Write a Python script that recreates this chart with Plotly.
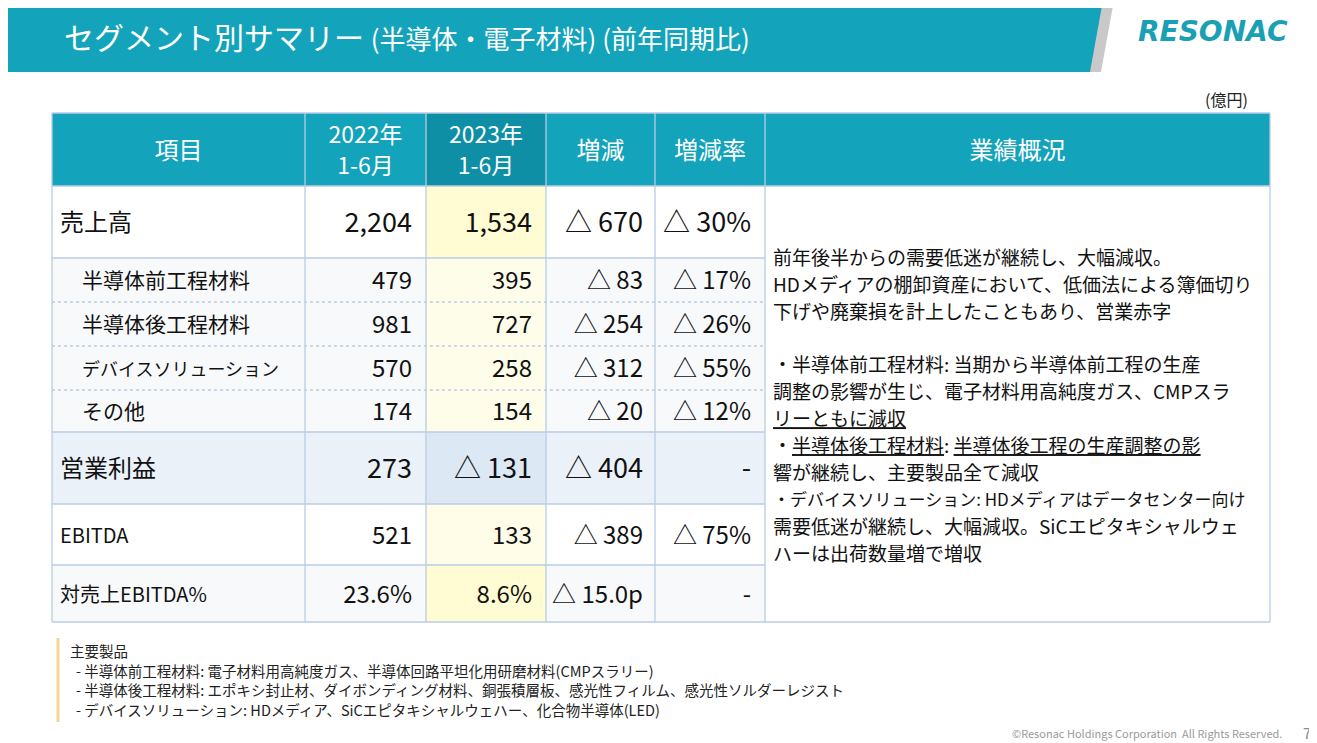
import plotly.graph_objects as go

# ---------------- data ----------------
items = ["売上高", "半導体前工程材料", "半導体後工程材料", "デバイスソリューション",
         "その他", "営業利益", "EBITDA", "対売上EBITDA%"]
h1_2022 = [2204, 479, 981, 570, 174, 273, 521, 23.6]
h1_2023 = [1534, 395, 727, 258, 154, -131, 133, 8.6]
change = [-670, -83, -254, -312, -20, -404, -389, -15.0]
change_rate = [-30, -17, -26, -55, -12, None, -75, None]
headers = ["項目", "2022年<br>1-6月", "2023年<br>1-6月", "増減", "増減率", "業績概況"]

commentary = [
    "前年後半からの需要低迷が継続し、大幅減収。",
    "HDメディアの棚卸資産において、低価法による簿価切り",
    "下げや廃棄損を計上したこともあり、営業赤字",
    "",
    "・半導体前工程材料: 当期から半導体前工程の生産",
    "調整の影響が生じ、電子材料用高純度ガス、CMPスラ",
    "<u>リーともに減収</u>",
    "・<u>半導体後工程材料</u>: <u>半導体後工程の生産調整の影</u>",
    "響が継続し、主要製品全て減収",
    "・デバイスソリューション: HDメディアはデータセンター向け",
    "需要低迷が継続し、大幅減収。SiCエピタキシャルウェ",
    "ハーは出荷数量増で増収",
]
products = [
    "主要製品",
    "- 半導体前工程材料: 電子材料用高純度ガス、半導体回路平坦化用研磨材料(CMPスラリー)",
    "- 半導体後工程材料: エポキシ封止材、ダイボンディング材料、銅張積層板、感光性フィルム、感光性ソルダーレジスト",
    "- デバイスソリューション: HDメディア、SiCエピタキシャルウェハー、化合物半導体(LED)",
]

# ---------------- layout / style constants ----------------
W, H = 1317, 743          # page (window) size
OFF = 8                   # page margin around the plot div
FONT = "Noto Sans CJK JP"
TEAL = "#13a3bb"
TEAL_DARK = "#0f8fa6"
BORDER = "#b9cde4"
COL_X = [52, 305, 426, 546, 655, 765, 1270]
ROW_Y = [113, 186, 258, 302, 346, 390, 432, 504, 565, 622]
TEXT_DY = 3
HEADER_LINE_GAP = 31
ratio_row = 7
row_fill = ["#ffffff", "#f8f9fb", "#f8f9fb", "#f8f9fb", "#f8f9fb", "#eaf1f9", "#ffffff", "#f8f9fb"]
hl_fill = ["#fffbd2", "#fefde9", "#fefde9", "#fefde9", "#fefde9", "#dce8f4", "#fffde8", "#fffbd2"]
label_x = [60, 82, 82, 82, 82, 60, 60, 60]
label_size = [24, 21, 21, 18, 21, 24, 20, 20]
value_size = [27, 24, 24, 24, 24, 27, 24, 24]
pads = [14, 14, 12, 14]


def fmt(v, decimals=0, suffix=""):
    if v is None:
        return "-"
    s = f"{abs(v):,.{decimals}f}" + suffix
    return ("△ " + s) if v < 0 else s


col_2022 = [fmt(v, 1, "%") if i == ratio_row else fmt(v) for i, v in enumerate(h1_2022)]
col_2023 = [fmt(v, 1, "%") if i == ratio_row else fmt(v) for i, v in enumerate(h1_2023)]
col_chg = [fmt(v, 1, "p") if i == ratio_row else fmt(v) for i, v in enumerate(change)]
col_rate = [fmt(v, 0, "%") for v in change_rate]

row_top = ROW_Y[1:-1]
row_bot = ROW_Y[2:]
row_mid = [(a + b) / 2 + TEXT_DY for a, b in zip(row_top, row_bot)]

shapes = []
# title band
shapes.append(dict(type="path", path="M 1102 0 L 1114 0 L 1101 72 L 1089 72 Z",
                   fillcolor="#c9c9c9", line=dict(width=0), xref="x", yref="y", layer="below"))
shapes.append(dict(type="path", path="M 0 0 L 1103 0 L 1090 72 L 0 72 Z",
                   fillcolor=TEAL, line=dict(width=0), xref="x", yref="y", layer="below"))
# header cells
for j in range(6):
    shapes.append(dict(type="rect", x0=COL_X[j], x1=COL_X[j + 1], y0=ROW_Y[0], y1=ROW_Y[1],
                       fillcolor=TEAL_DARK if j == 2 else TEAL, line=dict(width=0),
                       xref="x", yref="y", layer="below"))
# data cells
for i in range(len(items)):
    for j in range(5):
        shapes.append(dict(type="rect", x0=COL_X[j], x1=COL_X[j + 1], y0=row_top[i], y1=row_bot[i],
                           fillcolor=hl_fill[i] if j == 2 else row_fill[i], line=dict(width=0),
                           xref="x", yref="y", layer="below"))
shapes.append(dict(type="rect", x0=COL_X[5], x1=COL_X[6], y0=ROW_Y[1], y1=ROW_Y[-1],
                   fillcolor="#ffffff", line=dict(width=0), xref="x", yref="y", layer="below"))
# grid lines
for x in COL_X:
    shapes.append(dict(type="line", x0=x, x1=x, y0=ROW_Y[0], y1=ROW_Y[-1],
                       line=dict(color=BORDER, width=1.3), xref="x", yref="y"))
for k, y in enumerate(ROW_Y):
    full = k in (0, 1, len(ROW_Y) - 1)
    dashed = 3 <= k <= 5
    shapes.append(dict(type="line", x0=COL_X[0], x1=COL_X[6] if full else COL_X[5], y0=y, y1=y,
                       line=dict(color=BORDER, width=1.3, dash="dot" if dashed else "solid"),
                       xref="x", yref="y"))
# footnote bar
shapes.append(dict(type="line", x0=58, x1=58, y0=638, y1=722,
                   line=dict(color="#f6d58c", width=3), xref="x", yref="y"))

fig = go.Figure()

# header text (each line placed separately)
hx, hy, ht, hs = [], [], [], []
h_mid = (ROW_Y[0] + ROW_Y[1]) / 2 + TEXT_DY
for j, h in enumerate(headers):
    parts = h.split("<br>")
    n = len(parts)
    for k, p in enumerate(parts):
        hx.append((COL_X[j] + COL_X[j + 1]) / 2)
        hy.append(h_mid + (k - (n - 1) / 2) * HEADER_LINE_GAP)
        ht.append(p)
        hs.append(23 if n > 1 else 24)
fig.add_trace(go.Scatter(
    x=hx, y=hy, text=ht, mode="text", textposition="middle center",
    textfont=dict(family=FONT, size=hs, color="#ffffff"), hoverinfo="skip"))

# row labels
fig.add_trace(go.Scatter(
    x=label_x, y=row_mid, text=items, mode="text", textposition="middle right",
    textfont=dict(family=FONT, size=label_size, color="#111111"), hoverinfo="skip"))

# value columns
for j, col in enumerate([col_2022, col_2023, col_chg, col_rate]):
    fig.add_trace(go.Scatter(
        x=[COL_X[j + 2] - pads[j]] * len(col), y=row_mid, text=col, mode="text",
        textposition="middle left",
        textfont=dict(family=FONT, size=value_size, color="#111111"), hoverinfo="skip"))

# commentary
c_sizes = [17 if "デバイスソリューション" in t else 19 for t in commentary]
fig.add_trace(go.Scatter(
    x=[773] * len(commentary), y=[260 + 26.9 * k for k in range(len(commentary))],
    text=commentary, mode="text", textposition="middle right",
    textfont=dict(family=FONT, size=c_sizes, color="#111111"), hoverinfo="skip"))

# products footnote
fig.add_trace(go.Scatter(
    x=[70, 76, 76, 76], y=[653, 673, 692.5, 712],
    text=products, mode="text", textposition="middle right",
    textfont=dict(family=FONT, size=14.5, color="#222222"), hoverinfo="skip"))

annotations = [
    dict(x=62, y=36, xref="x", yref="y", xanchor="left", yanchor="middle", showarrow=False,
         text="セグメント別サマリー <span style='font-size:26px'>(半導体・電子材料) (前年同期比)</span>",
         font=dict(family=FONT, size=30, color="#ffffff")),
    dict(x=1213, y=31, xref="x", yref="y", xanchor="center", yanchor="middle", showarrow=False,
         text="<b><i>RESONAC</i></b>", font=dict(family="DejaVu Sans", size=28, color="#1aa0b4")),
    dict(x=1226, y=99, xref="x", yref="y", xanchor="center", yanchor="middle", showarrow=False,
         text="(億円)", font=dict(family=FONT, size=16, color="#222222")),
    dict(x=1284, y=733, xref="x", yref="y", xanchor="right", yanchor="middle", showarrow=False,
         text="©Resonac Holdings Corporation  All Rights Reserved.",
         font=dict(family=FONT, size=11, color="#9a9a9a")),
    dict(x=1313, y=732, xref="x", yref="y", xanchor="right", yanchor="middle", showarrow=False,
         text="7", font=dict(family=FONT, size=15, color="#8a8a8a")),
]

fig.update_layout(
    width=W - OFF, height=H - OFF, margin=dict(l=0, r=0, t=0, b=0),
    paper_bgcolor="#ffffff", plot_bgcolor="#ffffff", showlegend=False,
    xaxis=dict(range=[OFF, W], visible=False, fixedrange=True),
    yaxis=dict(range=[H, OFF], visible=False, fixedrange=True),
    shapes=shapes, annotations=annotations,
)

fig.write_html("out.html")
